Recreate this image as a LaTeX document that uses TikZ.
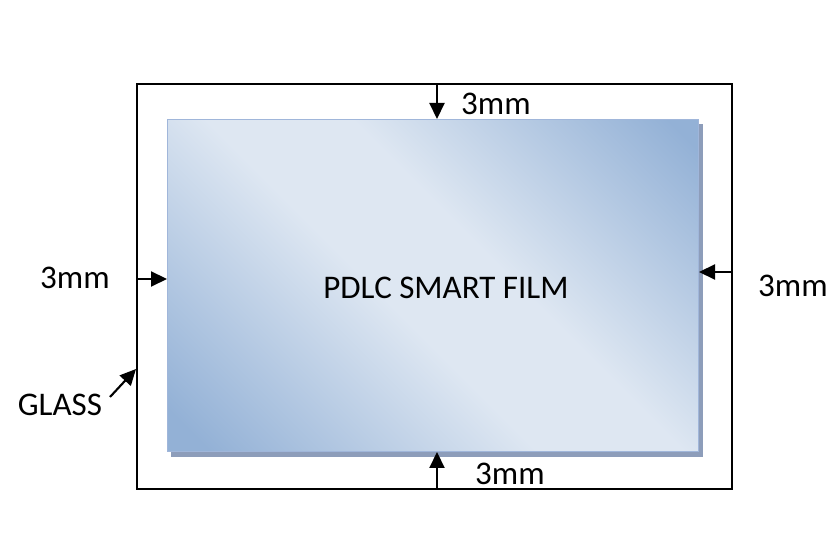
\documentclass[tikz,border=0pt]{standalone}
\usepackage{fontspec}
\setmainfont{Carlito}
\usetikzlibrary{arrows.meta,shadows}
\definecolor{filmblue}{RGB}{147,177,214}
\definecolor{filmlight}{RGB}{222,231,242}
\definecolor{filmedge}{RGB}{160,182,218}
\definecolor{filmshadow}{RGB}{141,157,186}
\pgfdeclarehorizontalshading{filmshade}{100bp}{color(0bp)=(filmblue); color(18bp)=(filmblue); color(45bp)=(filmlight); color(57bp)=(filmlight); color(83bp)=(filmblue); color(100bp)=(filmblue)}
\tikzset{
  glass/.style={draw=black, line width=1.3pt, minimum width=11.9cm, minimum height=8.1cm, inner sep=0pt},
  film/.style={draw=filmedge, line width=0.6pt, shading=filmshade, shading angle=45,
    minimum width=10.64cm, minimum height=6.66cm, inner sep=0pt,
    drop shadow={fill=filmshadow, opacity=1, shadow xshift=0.08cm, shadow yshift=-0.1cm}},
  label/.style={font=\fontsize{18.8}{22}\selectfont, inner sep=0pt},
  gap/.style={-{Triangle[length=0.32cm,width=0.3cm]}, line width=1.2pt}
}
\begin{document}
\begin{tikzpicture}[x=0.02cm,y=-0.02cm]
  \useasboundingbox (0,0) rectangle (839,540);
  \node[glass] (G) at (434.5,286.5) {};
  \node[film] (F) at (433,285.5) {};
  \node[label] (P) at (446,288) {PDLC SMART FILM};
  % gaps between glass and film
  \coordinate (T0) at (437,85);
  \coordinate (T1) at (437,119);
  \coordinate (B0) at (437,489);
  \coordinate (B1) at (437,452);
  \coordinate (L0) at (137,279);
  \coordinate (L1) at (167,279);
  \coordinate (R0) at (732,272);
  \coordinate (R1) at (699,272);
  \path[gap] (T0) edge (T1);
  \path[gap] (B0) edge (B1);
  \path[gap] (L0) edge (L1);
  \path[gap] (R0) edge (R1);
  \node[label] (tl) at (496,104) {3mm};
  \node[label] (bl) at (510,474) {3mm};
  \node[label] (ll) at (75,278) {3mm};
  \node[label] (rl) at (793,286) {3mm};
  % glass pointer
  \node[label] (GL) at (60,405) {GLASS};
  \coordinate (g0) at (110,397);
  \coordinate (g1) at (136,369);
  \path[gap] (g0) edge (g1);
\end{tikzpicture}
\end{document}
